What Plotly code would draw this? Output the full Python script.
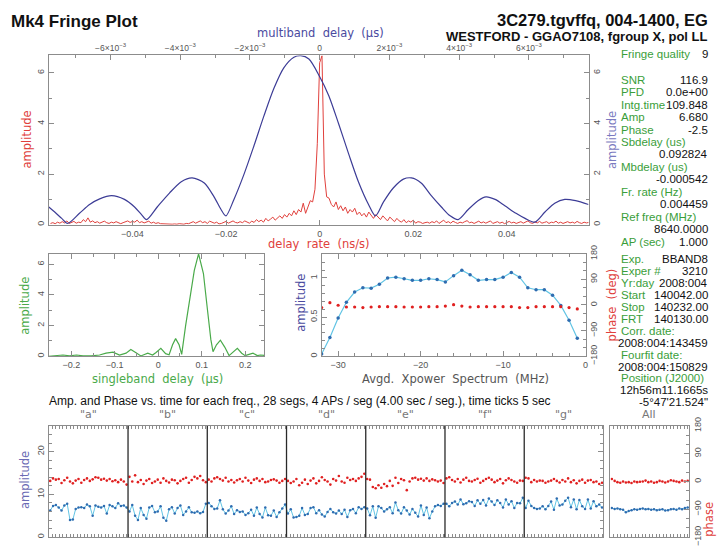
import plotly.graph_objects as go

# ======================= DATA =======================
# Top panel, red: delay-rate spectrum, sampled every rate_step (ns/s) from rate_start
rate_start = -0.0575
rate_step = 0.0005
rate_amp = [
    0.05, 0.08, 0.04, 0.1, 0.06, 0.12, 0.07, 0.15, 0.05, 0.09, 0.13, 0.06, 0.1, 0.08, 0.2, 0.12, 0.27, 0.1, 0.15, 0.08, 0.12,
    0.06, 0.1, 0.14, 0.08, 0.05, 0.1, 0.07, 0.12, 0.09, 0.04, 0.08, 0.11, 0.15, 0.09, 0.13, 0.1, 0.18, 0.08, 0.12, 0.07,
    0.1, 0.14, 0.06, 0.1, 0.05, 0.08, 0.04, 0.03, 0.02, 0.03, 0.02, 0.02, 0.03, 0.02, 0.04, 0.03, 0.02, 0.05, 0.04, 0.08,
    0.12, 0.06, 0.1, 0.15, 0.08, 0.12, 0.05, 0.14, 0.1, 0.06, 0.1, 0.03, 0.05, 0.08, 0.13, 0.06, 0.1, 0.15, 0.09, 0.07,
    0.12, 0.08, 0.15, 0.1, 0.06, 0.14, 0.09, 0.2, 0.12, 0.18, 0.1, 0.25, 0.15, 0.22, 0.3, 0.18, 0.28, 0.35, 0.25, 0.4,
    0.3, 0.45, 0.35, 0.55, 0.4, 0.6, 0.5, 0.85, 0.45, 0.7, 0.95, 0.9, 1.4, 3.2,
    6.4, 6.68, 2.0, 1.1,
    1.05, 0.8, 0.7, 0.9, 0.6, 0.75, 0.55, 0.7, 0.45, 0.6, 0.5, 0.65, 0.4, 0.5, 0.35, 0.45, 0.3, 0.5, 0.35, 0.25, 0.4, 0.3,
    0.2, 0.35, 0.25, 0.15, 0.3, 0.2, 0.12, 0.25, 0.15, 0.1, 0.2, 0.08, 0.15, 0.1, 0.18, 0.06, 0.12, 0.1, 0.05, 0.08,
    0.1, 0.06, 0.12, 0.08, 0.15, 0.05, 0.1, 0.18, 0.08, 0.12, 0.06, 0.14, 0.09, 0.05, 0.1, 0.07, 0.12, 0.16, 0.08, 0.1,
    0.05, 0.09, 0.14, 0.07, 0.11, 0.06, 0.1, 0.15, 0.05, 0.08, 0.12, 0.06, 0.1, 0.04, 0.08, 0.13, 0.07, 0.1, 0.05, 0.09,
    0.12, 0.06, 0.1, 0.15, 0.08, 0.05, 0.11, 0.07, 0.13, 0.06, 0.09, 0.12, 0.05, 0.1, 0.08, 0.14, 0.06, 0.1, 0.05, 0.09,
    0.12, 0.07, 0.1, 0.06, 0.13, 0.08, 0.05, 0.1, 0.07, 0.09,
]

# Top panel, blue: multiband delay function (x in microseconds)
mbd_delay = [
    -0.00777, -0.00760, -0.00740, -0.00723, -0.00689, -0.00660, -0.00631, -0.00597, -0.00560,
    -0.00531, -0.00511, -0.00497, -0.00466, -0.00431, -0.00397, -0.00366, -0.00331, -0.00303,
    -0.00283, -0.00269, -0.00246, -0.00217, -0.00189, -0.00160, -0.00131, -0.00103, -0.00074,
    -0.00054, -0.00031, 0.0, 0.00026, 0.00054, 0.00083, 0.00111, 0.00140, 0.00160, 0.00183,
    0.00211, 0.00240, 0.00263, 0.00291, 0.00320, 0.00349, 0.00374, 0.00397, 0.00426, 0.00454,
    0.00477, 0.00503, 0.00531, 0.00563, 0.00589, 0.00617, 0.00646, 0.00674, 0.00703, 0.00734, 0.00771,
]
mbd_amp = [
    0.7, 0.5, 0.25, 0.05, 0.45, 0.8, 1.02, 1.15, 1.0,
    0.7, 0.4, 0.2, 0.7, 1.25, 1.7, 1.85, 1.65, 1.1,
    0.6, 0.35, 1.0, 2.0, 3.1, 4.3, 5.4, 6.2, 6.62,
    6.68, 6.55, 5.85, 5.1, 4.0, 2.8, 1.7, 0.8, 0.35, 0.9,
    1.45, 1.8, 1.85, 1.65, 1.15, 0.7, 0.35, 0.2, 0.6, 0.95,
    1.1, 1.0, 0.75, 0.45, 0.25, 0.1, 0.5, 0.85, 1.0, 0.95, 0.8,
]

# Middle left, green: singleband delay function (x in microseconds)
sbd_delay = [
    -0.252, -0.234, -0.219, -0.204, -0.188, -0.173, -0.154, -0.135, -0.12, -0.104, -0.089, -0.074,
    -0.063, -0.051, -0.04, -0.024, -0.013, -0.005, 0.006, 0.017, 0.025, 0.033, 0.04, 0.048, 0.054,
    0.063, 0.073, 0.083, 0.0928, 0.104, 0.113, 0.121, 0.126, 0.134, 0.143, 0.153, 0.163, 0.172,
    0.182, 0.192, 0.2, 0.209, 0.218, 0.228, 0.235, 0.244,
]
sbd_amp = [
    0.0, 0.04, 0.08, 0.02, 0.08, 0.02, 0.02, 0.08, 0.2, 0.27, 0.08, 0.2,
    0.44, 0.23, 0.02, 0.2, 0.08, 0.25, 0.52, 0.17, 0.1, 0.75, 1.15, 0.75, 0.12,
    2.0, 3.9, 5.6, 6.68, 5.4, 3.1, 1.1, 0.3, 0.75, 1.05, 0.6, 0.04, 0.27,
    0.52, 0.2, 0.04, 0.12, 0.2, 0.04, 0.08, 0.06,
]

# Middle right: averaged cross-power spectrum
xp_freq = [-32, -31, -30, -29, -28, -27, -26, -25, -24, -23, -22, -21, -20, -19, -18, -17,
           -16, -15, -14, -13, -12, -11, -10, -9, -8, -7, -6, -5, -4, -3, -2, -1]
xp_amp = [0.03, 0.24, 0.49, 0.69, 0.82, 0.875, 0.87, 0.92, 1.0, 1.01, 0.99, 0.97, 0.97, 0.99, 0.98, 0.95,
          1.03, 1.1, 1.04, 0.97, 0.98, 0.98, 1.01, 1.07, 1.01, 0.875, 0.85, 0.85, 0.78, 0.65, 0.46, 0.23]
xp_phase = [-9, 8, -1, -7, -7, -9, -7, -6, -6, -6, -7, -7, -7, -6, -6, -4,
            1, -4, -7, -6, -6, -6, -6, -6, -9, -9, -6, -6, -6, -6, -9, -14]

# Bottom: amplitude / phase vs time for each frequency channel (28 segments of 4 s)
channel_names = ["a", "b", "c", "d", "e", "f", "g"]
seg_seconds = 4.0
time_tick_seconds = 5
amp_a = [6.2, 7.3, 7.5, 6.9, 6.2, 7.4, 7.8, 4.0, 4.1, 6.6, 6.9, 7.0, 6.8, 7.6,
         7.2, 5.0, 7.4, 7.1, 6.9, 7.3, 5.5, 7.5, 7.2, 6.8, 7.9, 7.3, 7.4, 6.9]
amp_b = [6.0, 7.5, 5.0, 4.0, 6.8, 5.2, 4.3, 6.9, 7.3, 5.8, 6.0, 7.2, 4.5, 3.8,
         6.5, 7.0, 5.5, 6.8, 7.4, 5.2, 6.0, 7.0, 5.8, 5.7, 6.0, 5.6, 5.9, 7.8]
amp_c = [8.0, 7.2, 6.6, 6.7, 8.6, 6.5, 5.5, 6.2, 7.2, 5.4, 6.3, 5.9, 6.0, 5.2,
         5.6, 6.4, 5.0, 6.9, 5.4, 4.6, 6.9, 5.1, 5.0, 6.2, 4.7, 5.8, 6.7, 7.6]
amp_d = [5.5, 6.5, 4.6, 4.7, 5.0, 6.8, 5.2, 5.4, 6.8, 7.0, 5.6, 6.3, 5.3, 4.8,
         5.9, 6.6, 5.8, 5.5, 6.2, 5.4, 6.4, 4.7, 6.3, 6.6, 5.6, 7.0, 6.6, 7.0]
amp_e = [6.7, 5.1, 7.2, 4.5, 7.2, 6.8, 6.0, 6.5, 7.0, 5.6, 8.1, 6.3, 5.5, 7.0,
         6.2, 5.3, 6.6, 5.7, 4.8, 7.4, 5.2, 6.9, 4.4, 6.0, 7.2, 7.5, 7.3, 7.8]
amp_f = [7.8, 7.2, 8.0, 8.3, 7.6, 8.8, 7.7, 7.9, 8.4, 8.2, 7.3, 8.6, 7.8, 8.7,
         7.4, 9.0, 8.3, 7.5, 8.6, 8.0, 6.9, 8.8, 7.6, 8.4, 6.8, 8.0, 7.9, 9.2]
amp_g = [6.8, 8.5, 7.3, 6.8, 6.6, 6.7, 7.2, 6.5, 7.3, 8.3, 6.4, 9.0, 7.4, 7.6,
         8.5, 9.2, 7.0, 8.8, 6.5, 8.7, 7.2, 6.6, 8.8, 6.7, 8.4, 7.2, 7.6, 6.9]
amp_all = [6.8, 6.6, 6.7, 6.5, 6.4, 5.8, 6.1, 6.3, 6.5, 6.4, 6.6, 6.7, 6.5, 6.6,
           6.4, 6.5, 6.3, 6.4, 6.5, 6.2, 6.3, 6.5, 6.6, 6.4, 6.7, 6.5, 6.8, 6.9]
ph_a = [2, 10, 6, 8, -5, 4, 12, 0, -6, 3, 8, -4, 5, 10, 2, 7, 14, 12, 6, 9, 3, 8, 1, 4, -2, 6, 0, -10]
ph_b = [15, 0, 20, -2, 5, -8, 3, 8, -5, 0, 6, -4, 10, 2, -3, 6, 4, -6, 2, 8, 12, -4, 5, 15, 10, 18, 4, -2]
ph_c = [6, 0, 10, 14, 8, 3, 12, 0, 5, -3, 4, 8, 0, 12, 3, -5, 6, 10, 2, 8, -2, 0, 5, 7, 3, -4, 2, 8]
ph_d = [2, -5, 0, 8, -12, -4, 6, -8, 3, 10, -6, 2, 14, 5, 0, -10, 8, 3, 18, 0, -4, 12, 5, 8, 2, 10, 15, 25]
ph_e = [8, 6, -18, -22, -12, -20, -8, -15, 2, -14, 12, -5, 8, 4, -28, 0, 10, 12, 6, 9, 3, 10, 2, 7, 4, 0, 3, -5]
ph_f = [10, 14, 5, 0, 8, -3, 6, 12, 2, 0, 5, 9, -4, 2, 8, 12, 6, -2, 3, 8, -6, 4, 10, 5, 0, -4, 3, 2]
ph_g = [12, 10, -2, 5, 0, 3, 2, -4, 0, 3, 8, 2, -3, 5, 0, 10, -2, 4, -6, 2, 6, -4, 3, 5, -2, 0, -8, -4]
ph_all = [8, 2, -2, -4, 0, -3, -2, -5, 0, -2, -1, 0, 3, -2, 0, -4, -2, 2, 0, -3, 0, 4, 2, 0, -2, 3, 0, 2]

# Tick labels
rate_ticks = [-0.04, -0.02, 0, 0.02, 0.04]
mbd_ticks = [-0.006, -0.004, -0.002, 0, 0.002, 0.004, 0.006]
mbd_ticktext = ["\u22126\u00d710<sup>\u22123</sup>", "\u22124\u00d710<sup>\u22123</sup>", "\u22122\u00d710<sup>\u22123</sup>",
                "0", "2\u00d710<sup>\u22123</sup>", "4\u00d710<sup>\u22123</sup>", "6\u00d710<sup>\u22123</sup>"]
phase_ticks = [-180, -90, 0, 90, 180]

# Text panel
header_left = "Mk4 Fringe Plot"
header_right1 = "3C279.tgvffq, 004-1400, EG"
header_right2 = "WESTFORD - GGAO7108, fgroup X, pol LL"
info_quality = ("Fringe quality", "9")
info_upper = [("SNR", "116.9"), ("PFD", "0.0e+00"), ("Intg.time", "109.848"), ("Amp", "6.680"),
              ("Phase", "-2.5"), ("Sbdelay (us)", ""), ("", "0.092824"), ("Mbdelay (us)", ""),
              ("", "-0.000542"), ("Fr. rate (Hz)", ""), ("", "0.004459"), ("Ref freq (MHz)", ""),
              ("", "8640.0000"), ("AP (sec)", "1.000")]
info_lower = [("Exp.", "BBAND8"), ("Exper #", "3210"), ("Yr:day", "2008:004"), ("Start", "140042.00"),
              ("Stop", "140232.00"), ("FRT", "140130.00"), ("Corr. date:", ""), ("", "2008:004:143459"),
              ("Fourfit date:", ""), ("", "2008:004:150829"), ("Position (J2000)", ""),
              ("", "12h56m11.1665s"), ("", "-5\u00b047'21.524\"")]
bottom_header = "Amp. and Phase vs. time for each freq., 28 segs, 4 APs / seg (4.00 sec / seg.), time ticks 5 sec"

# ======================= STYLE / LAYOUT =======================
W, H = 717, 550
def fx(px): return px / W
def fy(py): return 1 - py / H

RED = "#e0403c"
NAVY = "#3c3c96"
GREEN = "#4aaa4a"
TXTGREEN = "#3a9e3a"
CYAN = "#62c4e4"
DBLUE = "#2f6cb0"
AXC = "#8c8c8c"
TICKC = "#555555"
TICKF = "Liberation Sans"
TITLEF = "DejaVu Sans"
INFOF = "Liberation Sans"

rate_x = [rate_start + rate_step * i for i in range(len(rate_amp))]
n_seg = len(amp_a)
ch_len = n_seg * seg_seconds
amps = [amp_a, amp_b, amp_c, amp_d, amp_e, amp_f, amp_g]
phs = [ph_a, ph_b, ph_c, ph_d, ph_e, ph_f, ph_g]
t_bottom, a_bottom, p_bottom = [], [], []
for c, (al, pl) in enumerate(zip(amps, phs)):
    for j in range(n_seg):
        t_bottom.append(c * ch_len + (j + 0.5) * seg_seconds)
        a_bottom.append(al[j])
        p_bottom.append(pl[j])
t_all = [(j + 0.5) * seg_seconds for j in range(n_seg)]
time_ticks = [c * ch_len + k for c in range(len(channel_names)) for k in range(0, int(ch_len) + 1, time_tick_seconds)]
all_ticks = list(range(0, int(ch_len) + 1, time_tick_seconds))

fig = go.Figure()
fig.add_trace(go.Scatter(x=rate_x, y=rate_amp, mode="lines", line=dict(color=RED, width=1),
                         xaxis="x", yaxis="y", hoverinfo="skip"))
fig.add_trace(go.Scatter(x=mbd_delay, y=mbd_amp, mode="lines",
                         line=dict(color=NAVY, width=1.2, shape="spline", smoothing=0.8),
                         xaxis="x2", yaxis="y2", hoverinfo="skip"))
fig.add_trace(go.Scatter(x=sbd_delay, y=sbd_amp, mode="lines", line=dict(color=GREEN, width=1.2),
                         xaxis="x3", yaxis="y3", hoverinfo="skip"))
fig.add_trace(go.Scatter(x=xp_freq, y=xp_amp, mode="lines+markers", line=dict(color=CYAN, width=1.2),
                         marker=dict(color=DBLUE, size=3.5), xaxis="x4", yaxis="y4", hoverinfo="skip"))
fig.add_trace(go.Scatter(x=xp_freq, y=xp_phase, mode="markers", marker=dict(color="#e02020", size=3.2),
                         xaxis="x4", yaxis="y5", hoverinfo="skip"))
fig.add_trace(go.Scatter(x=t_bottom, y=a_bottom, mode="lines+markers", line=dict(color=CYAN, width=1),
                         marker=dict(color=DBLUE, size=2.5), xaxis="x5", yaxis="y6", hoverinfo="skip"))
fig.add_trace(go.Scatter(x=t_bottom, y=p_bottom, mode="markers", marker=dict(color="#e02020", size=2.6),
                         xaxis="x5", yaxis="y7", hoverinfo="skip"))
fig.add_trace(go.Scatter(x=t_all, y=amp_all, mode="lines+markers", line=dict(color=CYAN, width=1),
                         marker=dict(color=DBLUE, size=2.5), xaxis="x6", yaxis="y8", hoverinfo="skip"))
fig.add_trace(go.Scatter(x=t_all, y=ph_all, mode="markers", marker=dict(color="#e02020", size=2.6),
                         xaxis="x6", yaxis="y9", hoverinfo="skip"))


def ax(**kw):
    d = dict(showline=True, linecolor=AXC, linewidth=1, ticks="inside", ticklen=5, tickcolor=AXC, tickwidth=1,
             showgrid=False, zeroline=False, tickfont=dict(family=TICKF, size=9, color=TICKC), fixedrange=True)
    d.update(kw)
    return d

def minor(dt, t0=0):
    return dict(tickmode="linear", tick0=t0, dtick=dt, ticks="inside", ticklen=3, tickcolor=AXC, showgrid=False)

top_dom_x = [fx(49), fx(591)]
top_dom_y = [fy(223), fy(48)]
mid_dom_y = [fy(359), fy(253)]
bot_dom_y = [fy(546), fy(431)]

layout = dict(
    width=W, height=H, margin=dict(l=0, r=0, t=0, b=0, pad=0),
    paper_bgcolor="white", plot_bgcolor="white", showlegend=False,
    xaxis=ax(domain=top_dom_x, anchor="y", range=[-0.05787, 0.05745], tickmode="array", tickvals=rate_ticks,
             ticktext=["\u22120.04", "\u22120.02", "0", "0.02", "0.04"]),
    xaxis2=ax(overlaying="x", side="top", anchor="y", range=[-0.00777, 0.00771], tickmode="array",
              tickvals=mbd_ticks, ticktext=mbd_ticktext, minor=minor(0.001),
              tickfont=dict(family=TICKF, size=8.5, color=TICKC)),
    yaxis=ax(domain=top_dom_y, anchor="x", range=[0, 6.69], tickmode="linear", tick0=0, dtick=2,
             tickangle=-90, minor=minor(1)),
    yaxis2=ax(overlaying="y", side="right", anchor="x", range=[0, 6.69], tickmode="linear", tick0=0, dtick=2,
              tickangle=-90, minor=minor(1)),
    xaxis3=ax(domain=[fx(49), fx(265.5)], anchor="y3", range=[-0.2517, 0.2442], tickmode="linear", tick0=0,
              dtick=0.1, mirror="ticks", minor=minor(0.05)),
    yaxis3=ax(domain=mid_dom_y, anchor="x3", range=[0, 6.69], tickmode="linear", tick0=0, dtick=2,
              mirror="ticks", tickangle=-90, minor=minor(1)),
    xaxis4=ax(domain=[fx(323), fx(588)], anchor="y4", range=[-32, 0], tickmode="linear", tick0=0, dtick=10,
              mirror="ticks", minor=minor(2)),
    yaxis4=ax(domain=mid_dom_y, anchor="x4", range=[0, 1.31], tickmode="linear", tick0=0, dtick=0.5,
              tickangle=-90, minor=minor(0.1)),
    yaxis5=ax(overlaying="y4", side="right", anchor="x4", range=[-180, 180], tickmode="array",
              tickvals=phase_ticks, tickangle=-90, minor=minor(30)),
    xaxis5=ax(domain=[fx(49), fx(606)], anchor="y6", range=[0, ch_len * len(channel_names)], tickmode="array",
              tickvals=time_ticks, showticklabels=False, ticklen=3, mirror="ticks"),
    yaxis6=ax(domain=bot_dom_y, anchor="x5", range=[0, 26], tickmode="linear", tick0=0, dtick=10,
              mirror="ticks", tickangle=-90, minor=minor(2)),
    yaxis7=dict(overlaying="y6", range=[-180, 180], visible=False, fixedrange=True),
    xaxis6=ax(domain=[fx(613), fx(692)], anchor="y8", range=[0, ch_len], tickmode="array", tickvals=all_ticks,
              showticklabels=False, ticklen=3, mirror="ticks"),
    yaxis8=ax(domain=bot_dom_y, anchor="x6", range=[0, 26], tickmode="linear", tick0=0, dtick=10,
              showticklabels=False, ticks="", mirror=False),
    yaxis9=ax(overlaying="y8", side="right", anchor="x6", range=[-180, 180], tickmode="array",
              tickvals=phase_ticks, tickangle=-90, minor=minor(30)),
)
fig.update_layout(**layout)

# channel dividers
shapes = []
for c in range(1, len(channel_names)):
    shapes.append(dict(type="line", xref="x5", yref="y6 domain", x0=c * ch_len, x1=c * ch_len, y0=0, y1=1,
                       line=dict(color="#2a2a2a", width=1.3)))
fig.update_layout(shapes=shapes)

ann = []
def txt(text, x, y, size, color, xanchor="center", family=TITLEF, angle=0, yanchor="middle", xref="paper"):
    ann.append(dict(text=text, x=(x if xref != "paper" else fx(x)), y=fy(y), xref=xref, yref="paper",
                    xanchor=xanchor, yanchor=yanchor, showarrow=False, textangle=angle,
                    font=dict(family=family, size=size, color=color)))

# headers
txt("<b>" + header_left + "</b>", 9, 13, 17, "#111", xanchor="left", family="Liberation Sans")
txt("<b>" + header_right1 + "</b>", 713, 11.5, 16.5, "#111", xanchor="right", family="Liberation Sans")
txt("<b>" + header_right2 + "</b>", 713, 28.8, 13, "#111", xanchor="right", family="Liberation Sans")

# axis titles
txt("multiband  delay  (\u03bcs)", 322, 25, 11.5, "#4a4aa0")
txt("delay  rate  (ns/s)", 320, 243, 11.5, RED)
txt("amplitude", 27, 135, 11.5, RED, angle=-90)
txt("amplitude", 614, 135, 11.5, "#7a7ac0", angle=-90)
txt("amplitude", 25, 307, 11.5, GREEN, angle=-90)
txt("singleband  delay  (\u03bcs)", 158, 383, 11.5, GREEN)
txt("amplitude", 302, 304, 11.5, "#4a4aa0", angle=-90)
txt("phase  (deg)", 615, 306, 11.5, RED, angle=-90)
txt("Avgd.  Xpower  Spectrum  (MHz)", 457, 383, 11.5, "#555")
txt("amplitude", 25, 487, 11.5, "#6a6ab4", angle=-90)
txt("phase", 712, 528, 11.5, RED, angle=-90)

# bottom header and channel labels
txt(bottom_header, 47, 405, 12, "#111", xanchor="left", family=INFOF)
for c, name in enumerate(channel_names):
    txt('"' + name + '"', c * ch_len + ch_len / 2, 419, 11, "#777", xref="x5")
txt("All", 652, 419, 11, "#777", family=TITLEF)

# info panel
INFS = 11.5
txt(info_quality[0], 622, 47, INFS, TXTGREEN, xanchor="left", family=INFOF)
txt(info_quality[1], 713, 47, INFS, "#111", xanchor="right", family=INFOF)
for i, (lab, val) in enumerate(info_upper):
    yy = 73 + 12.9 * i
    if lab:
        txt(lab, 622, yy, INFS, TXTGREEN, xanchor="left", family=INFOF)
    if val:
        txt(val, 713, yy, INFS, "#111", xanchor="right", family=INFOF)
for i, (lab, val) in enumerate(info_lower):
    yy = 258 + 12.4 * i
    if lab:
        txt(lab, 622, yy, INFS, TXTGREEN, xanchor="left", family=INFOF)
    if val:
        txt(val, 713, yy, INFS, "#111", xanchor="right", family=INFOF)

fig.update_layout(annotations=ann)
fig.write_html("out.html", config={"displayModeBar": False},
               post_script="document.body.style.margin='0px';document.body.style.padding='0px';"
                           "document.body.style.overflow='hidden';")
